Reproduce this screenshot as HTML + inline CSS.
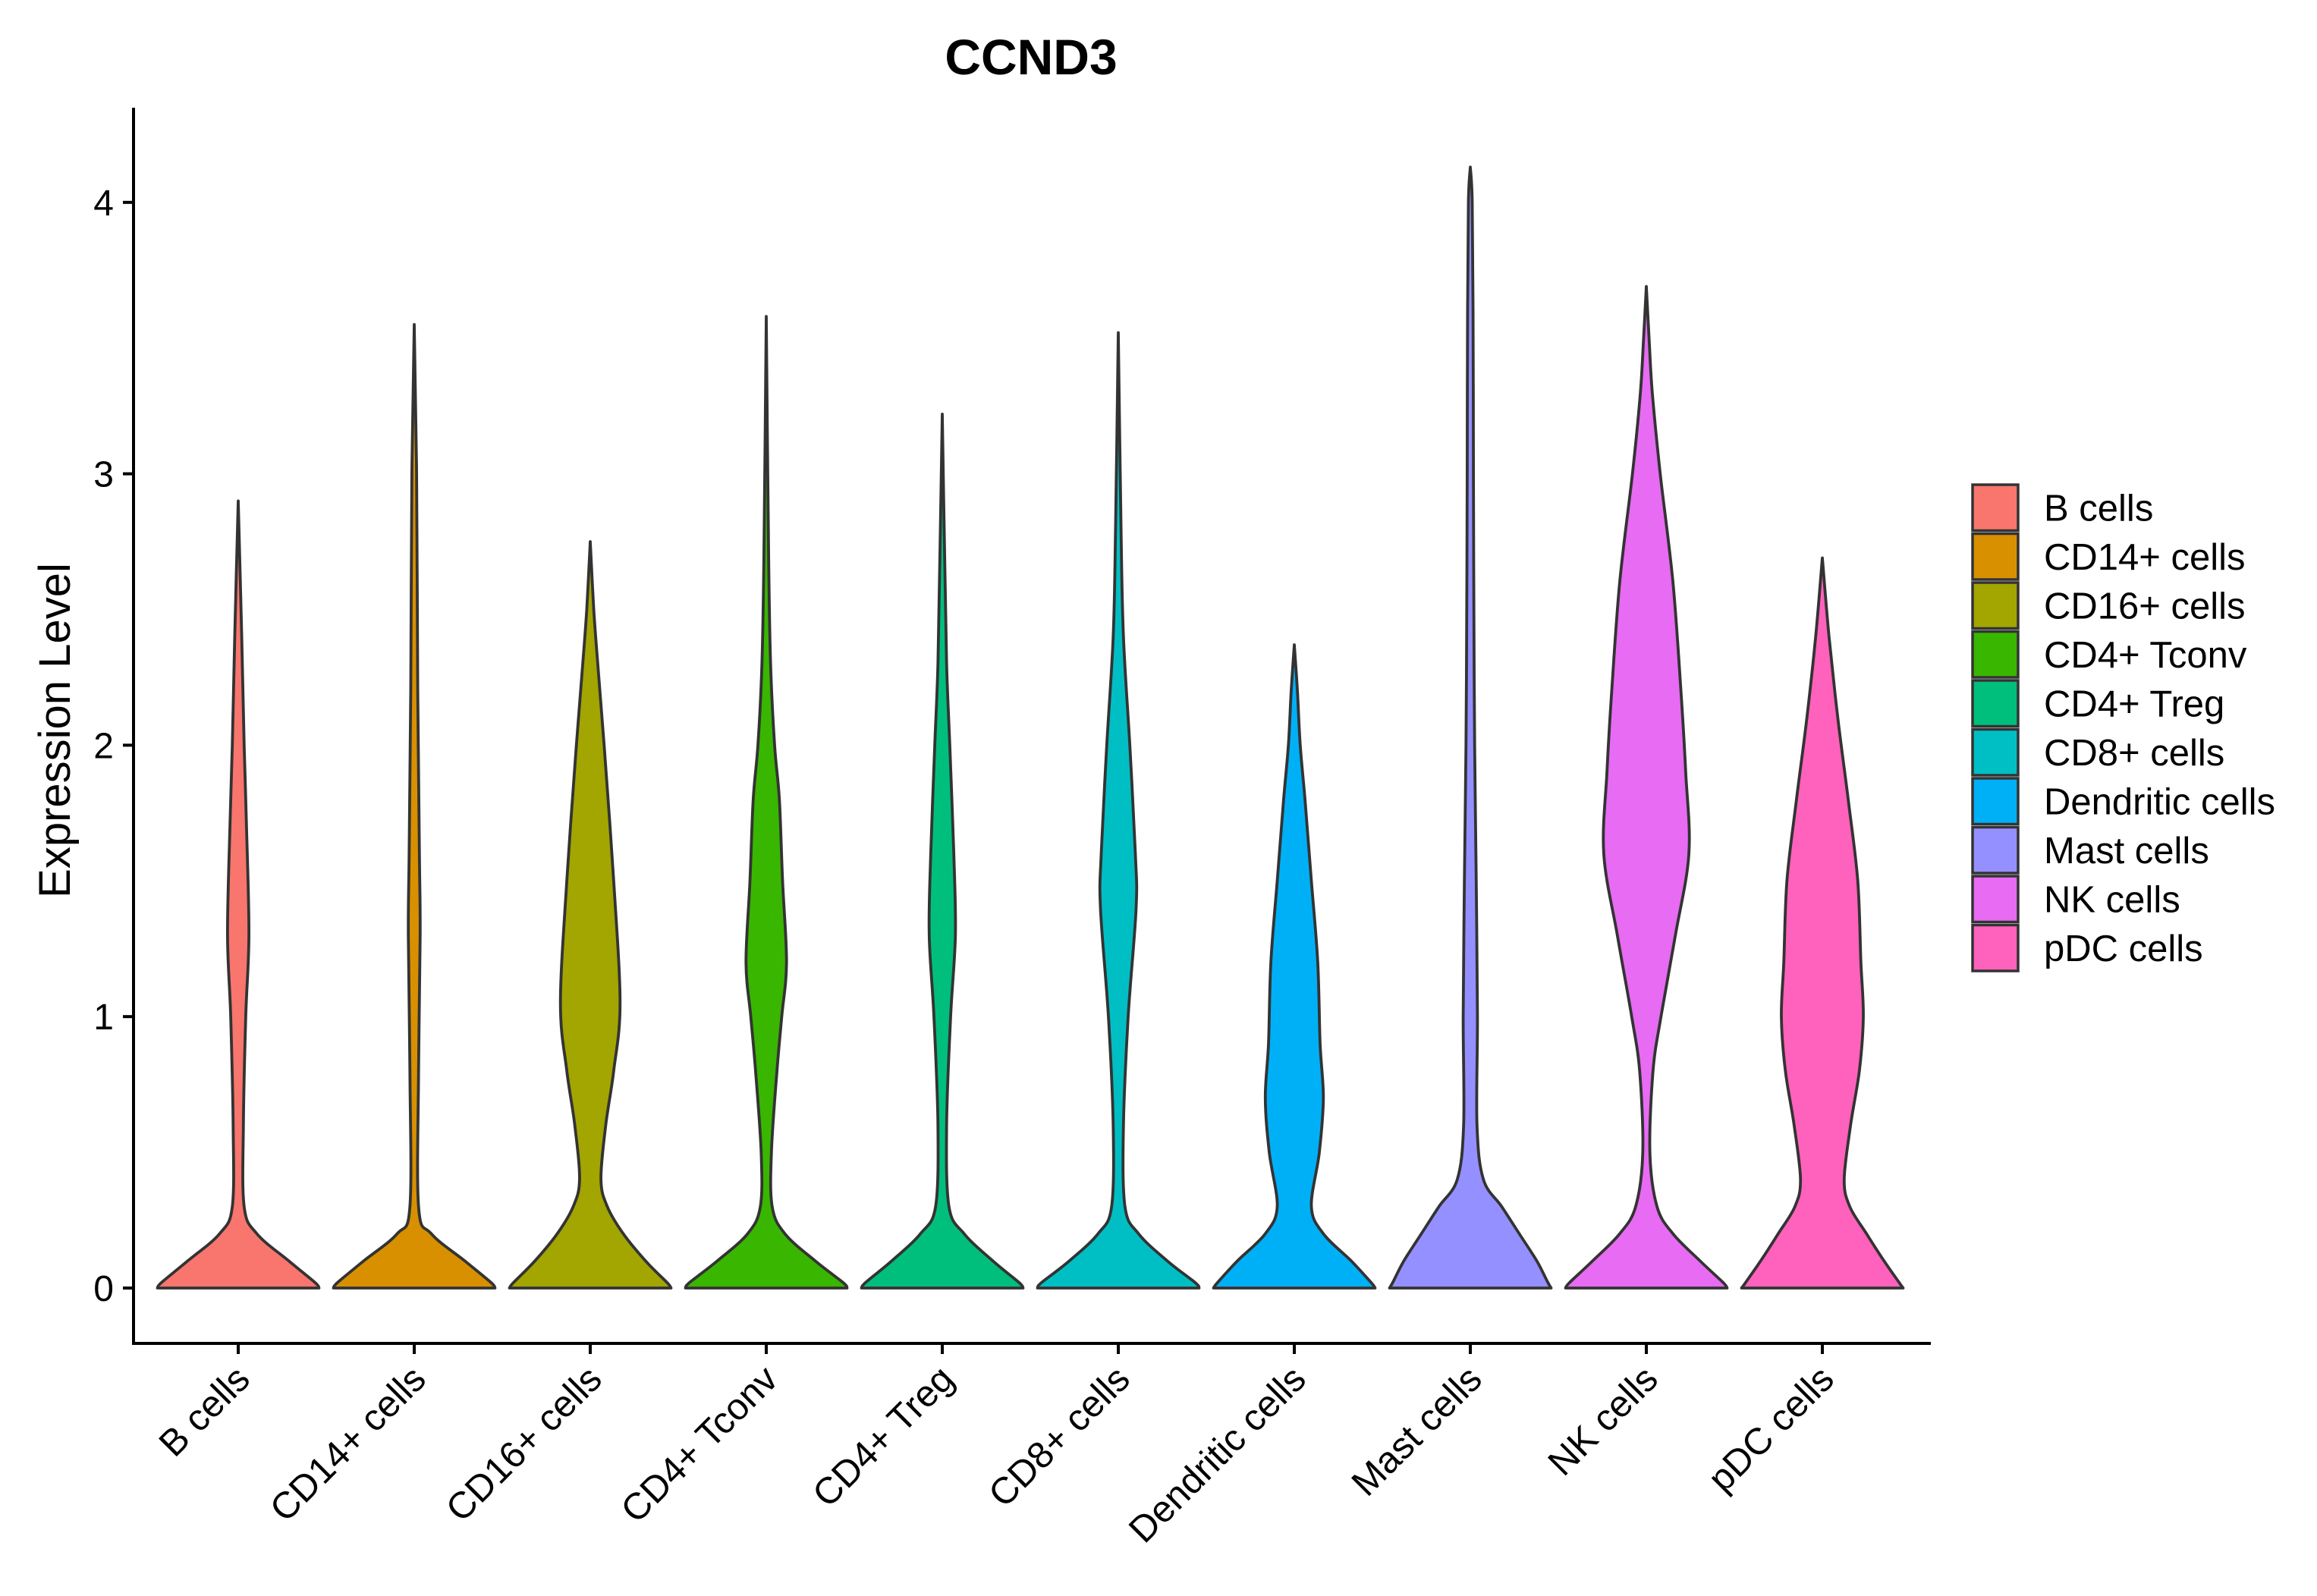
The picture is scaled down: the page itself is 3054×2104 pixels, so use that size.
<!DOCTYPE html>
<html><head><meta charset="utf-8"><style>
html,body{margin:0;padding:0;background:#fff;}
svg{display:block;font-family:"Liberation Sans",Arial,sans-serif;}
</style></head><body>
<svg id="chart" width="3054" height="2104" viewBox="0 0 3054 2104" xmlns="http://www.w3.org/2000/svg">
<text x="1359" y="98" text-anchor="middle" font-size="66" font-weight="bold">CCND3</text>
<text transform="translate(92,963) rotate(-90)" text-anchor="middle" font-size="58">Expression Level</text>
<g id="violins"></g>
<g id="axes"></g>
<g id="legend"></g>
</svg>
<script>
const categories = ["B cells","CD14+ cells","CD16+ cells","CD4+ Tconv","CD4+ Treg","CD8+ cells","Dendritic cells","Mast cells","NK cells","pDC cells"];
const colors = ["#F8766D","#D89000","#A3A500","#39B600","#00BF7D","#00BFC4","#00B0F6","#9590FF","#E76BF3","#FF62BC"];
const maxValues = [2.90,3.55,2.75,3.58,3.22,3.52,2.37,4.13,3.69,2.69];
const yTicks = [0,1,2,3,4];
// density profiles: [expression level, relative half-width]
const profB = [[0,1],[0.02,0.95],[0.1,0.62],[0.2,0.22],[0.3,0.06],[0.6,0.05],[1.0,0.08],[1.3,0.12],[1.7,0.09],[2.0,0.06],[2.4,0.03],[2.9,0]];
const profCD14 = [[0,1],[0.02,0.95],[0.1,0.62],[0.2,0.2],[0.3,0.04],[0.8,0.04],[1.3,0.06],[1.6,0.05],[2.2,0.03],[3.0,0.015],[3.55,0]];
const profCD16 = [[0,1],[0.02,0.95],[0.1,0.68],[0.2,0.4],[0.3,0.2],[0.4,0.12],[0.6,0.18],[0.8,0.28],[1.05,0.36],[1.5,0.28],[2.0,0.16],[2.3,0.08],[2.5,0.03],[2.75,0]];
const profTconv = [[0,1],[0.02,0.95],[0.1,0.6],[0.2,0.22],[0.3,0.06],[0.5,0.05],[0.8,0.12],[1.0,0.18],[1.2,0.24],[1.5,0.19],[1.8,0.15],[2.0,0.09],[2.3,0.04],[2.7,0.015],[3.58,0]];
const profTreg = [[0,1],[0.02,0.95],[0.1,0.62],[0.2,0.26],[0.3,0.07],[0.6,0.04],[1.0,0.09],[1.3,0.15],[1.6,0.13],[2.0,0.08],[2.3,0.04],[2.7,0.015],[3.22,0]];
const profCD8 = [[0,1],[0.02,0.95],[0.1,0.6],[0.2,0.24],[0.3,0.07],[0.6,0.05],[1.0,0.11],[1.4,0.21],[1.6,0.2],[2.0,0.13],[2.4,0.05],[2.8,0.02],[3.52,0]];
const profDC = [[0,1],[0.02,0.95],[0.1,0.7],[0.2,0.35],[0.3,0.2],[0.5,0.3],[0.7,0.35],[0.9,0.31],[1.2,0.28],[1.5,0.2],[1.8,0.12],[2.0,0.06],[2.2,0.025],[2.37,0]];
const profMast = [[0,1],[0.02,0.96],[0.1,0.82],[0.2,0.6],[0.3,0.38],[0.4,0.15],[0.6,0.07],[1.0,0.075],[1.5,0.06],[2.0,0.04],[2.5,0.03],[3.0,0.025],[3.6,0.02],[4.0,0.01],[4.13,0]];
const profNK = [[0,1],[0.02,0.95],[0.1,0.66],[0.2,0.32],[0.3,0.12],[0.5,0.03],[0.8,0.07],[1.0,0.17],[1.3,0.35],[1.6,0.52],[1.9,0.48],[2.2,0.42],[2.6,0.32],[3.0,0.16],[3.3,0.06],[3.5,0.02],[3.69,0]];
const profPDC = [[0,1],[0.02,0.95],[0.1,0.76],[0.2,0.54],[0.3,0.33],[0.4,0.26],[0.6,0.34],[0.8,0.45],[1.0,0.5],[1.2,0.47],[1.5,0.43],[1.8,0.31],[2.1,0.18],[2.4,0.07],[2.69,0]];
const profiles = [profB,profCD14,profCD16,profTconv,profTreg,profCD8,profDC,profMast,profNK,profPDC];

const NS = "http://www.w3.org/2000/svg";
const plotLeft = 176, plotRight = 2545, axisTop = 142, axisBottom = 1771;
const y0px = 1698, unit = 357.8;
const xStart = 314, xStep = 232, halfMax = 105;
function yScale(v){ return y0px - v*unit; }
function xScale(i){ return xStart + i*xStep; }

function mk(tag, attrs, parent){
  const el = document.createElementNS(NS, tag);
  for (const k in attrs) el.setAttribute(k, attrs[k]);
  parent.appendChild(el);
  return el;
}
function smooth(pts){
  let d = "";
  for (let i=0;i<pts.length-1;i++){
    const p0 = pts[Math.max(i-1,0)], p1 = pts[i], p2 = pts[i+1], p3 = pts[Math.min(i+2,pts.length-1)];
    const c1 = [p1[0]+(p2[0]-p0[0])/6, p1[1]+(p2[1]-p0[1])/6];
    const c2 = [p2[0]-(p3[0]-p1[0])/6, p2[1]-(p3[1]-p1[1])/6];
    d += ` C${c1[0].toFixed(1)},${c1[1].toFixed(1)} ${c2[0].toFixed(1)},${c2[1].toFixed(1)} ${p2[0].toFixed(1)},${p2[1].toFixed(1)}`;
  }
  return d;
}
const gV = document.getElementById('violins');
profiles.forEach((prof, i) => {
  const cx = xScale(i);
  const pts = prof.filter(p => p[0] <= maxValues[i]);
  if (pts[pts.length-1][0] < maxValues[i]) pts.push([maxValues[i], 0]);
  const right = pts.map(p => [cx + p[1]*halfMax + (p[1]===0?0:1.5), yScale(p[0])]);
  const left = pts.slice().reverse().map(p => [cx - p[1]*halfMax - (p[1]===0?0:1.5), yScale(p[0])]);
  let d = `M${right[0][0]},${right[0][1]}` + smooth(right) + smooth(left) + " Z";
  const path = mk('path', {d:d, fill:colors[i], stroke:'#333333', 'stroke-width':3.8, 'stroke-linejoin':'round'}, gV);
  
  
});

const gA = document.getElementById('axes');
const yl = mk('line', {x1:plotLeft, y1:axisTop, x2:plotLeft, y2:axisBottom+2, stroke:'#000', 'stroke-width':4}, gA);


const xl = mk('line', {x1:plotLeft-2, y1:axisBottom, x2:plotRight, y2:axisBottom, stroke:'#000', 'stroke-width':4}, gA);


yTicks.forEach(v => {
  const t = mk('line', {x1:plotLeft-14, y1:yScale(v), x2:plotLeft, y2:yScale(v), stroke:'#000', 'stroke-width':4}, gA);
  
  
  const lb = mk('text', {x:plotLeft-26, y:yScale(v)+17, 'text-anchor':'end', 'font-size':48}, gA);
  lb.textContent = v;
  
  
});
categories.forEach((c, i) => {
  const x = xScale(i);
  const t = mk('line', {x1:x, y1:axisBottom, x2:x, y2:axisBottom+14, stroke:'#000', 'stroke-width':4}, gA);
  
  
  const lb = mk('text', {transform:`translate(${x+18},${axisBottom+50}) rotate(-45)`, 'text-anchor':'end', 'font-size':49}, gA);
  lb.textContent = c;
  
  
});

const gL = document.getElementById('legend');
const keyX = 2600, keyTop = 637, keyH = 64.5, keyW = 60;
categories.forEach((c, i) => {
  const y = keyTop + i*keyH;
  const r = mk('rect', {x:keyX, y:y+2, width:keyW, height:keyH-4, fill:colors[i], stroke:'#333333', 'stroke-width':3.5}, gL);
  
  
  const t = mk('text', {x:2694, y:y+keyH/2+17, 'font-size':49}, gL);
  t.textContent = c;
  
  
});
</script>
</body></html>
